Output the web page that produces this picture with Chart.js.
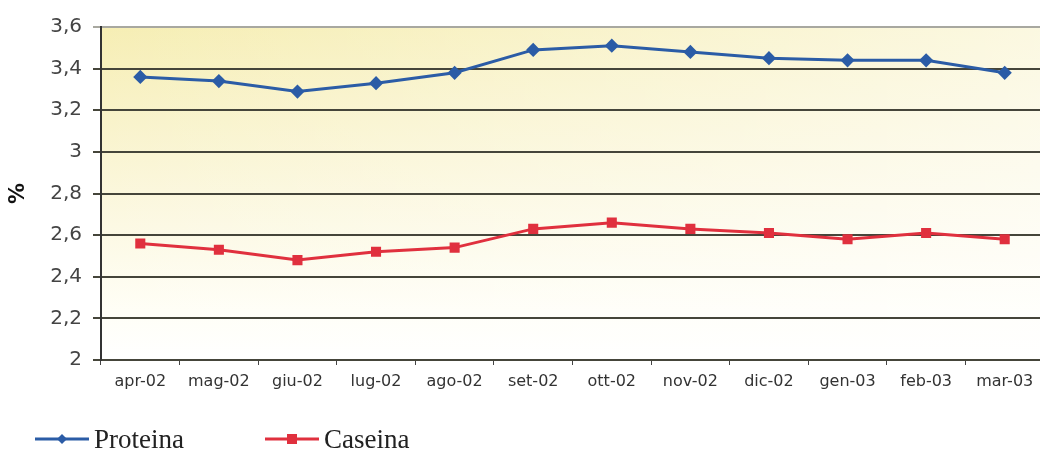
<!DOCTYPE html>
<html>
<head>
<meta charset="utf-8">
<script src="https://cdn.jsdelivr.net/npm/chart.js@4"></script>
<style>
  html, body { margin: 0; padding: 0; background: #fff; overflow: hidden; }
  #wrap { width: 1052px; height: 451px; }
</style>
</head>
<body>
<div id="wrap"><canvas id="milkChart" width="1052" height="451"></canvas></div>
<script>
const months = ["apr-02", "mag-02", "giu-02", "lug-02", "ago-02", "set-02",
  "ott-02", "nov-02", "dic-02", "gen-03", "feb-03", "mar-03"];
const proteina = [3.36, 3.34, 3.29, 3.33, 3.38, 3.49, 3.51, 3.48, 3.45, 3.44, 3.44, 3.38];
const caseina = [2.56, 2.53, 2.48, 2.52, 2.54, 2.63, 2.66, 2.63, 2.61, 2.58, 2.61, 2.58];

// yellow fade behind the plot area
const plotBackground = {
  id: "plotBackground",
  beforeDraw(chart) {
    const { ctx, chartArea: a } = chart;
    const w = a.right - a.left, h = a.bottom - a.top;
    ctx.save();
    const v = ctx.createLinearGradient(0, a.top, 0, a.bottom);
    v.addColorStop(0, "#f6eeb4");
    v.addColorStop(0.5, "#fbf7dc");
    v.addColorStop(0.85, "#fffef6");
    v.addColorStop(1, "#ffffff");
    ctx.fillStyle = v;
    ctx.fillRect(a.left, a.top, w, h);
    const hz = ctx.createLinearGradient(a.left, 0, a.right, 0);
    hz.addColorStop(0, "rgba(255,255,255,0)");
    hz.addColorStop(1, "rgba(255,255,255,0.6)");
    ctx.fillStyle = hz;
    ctx.fillRect(a.left, a.top, w, h);
    ctx.restore();
  }
};

// legend under the axis, like the original
const bottomLegend = {
  id: "bottomLegend",
  afterDraw(chart) {
    const ctx = chart.ctx;
    const items = [
      { x: 35, ds: chart.data.datasets[0] },
      { x: 265, ds: chart.data.datasets[1] }
    ];
    const y = 439;
    ctx.save();
    items.forEach((it) => {
      ctx.strokeStyle = it.ds.borderColor;
      ctx.lineWidth = 3;
      ctx.beginPath();
      ctx.moveTo(it.x, y);
      ctx.lineTo(it.x + 54, y);
      ctx.stroke();
      ctx.fillStyle = it.ds.backgroundColor;
      const cx = it.x + 27;
      if (it.ds.pointStyle === "rectRot") {
        ctx.beginPath();
        ctx.moveTo(cx, y - 5);
        ctx.lineTo(cx + 5, y);
        ctx.lineTo(cx, y + 5);
        ctx.lineTo(cx - 5, y);
        ctx.closePath();
        ctx.fill();
      } else {
        ctx.fillRect(cx - 5, y - 5, 10, 10);
      }
      ctx.fillStyle = "#222";
      ctx.font = "27px 'Liberation Serif'";
      ctx.textBaseline = "alphabetic";
      ctx.fillText(it.ds.label, it.x + 59, 448);
    });
    ctx.restore();
  }
};

const ctx = document.getElementById("milkChart").getContext("2d");
new Chart(ctx, {
  type: "line",
  data: {
    labels: months,
    datasets: [
      {
        label: "Proteina",
        data: proteina,
        borderColor: "#2b5ca6",
        backgroundColor: "#2b5ca6",
        borderWidth: 3,
        pointStyle: "rectRot",
        pointRadius: 5,
        pointHoverRadius: 5,
        tension: 0,
      },
      {
        label: "Caseina",
        data: caseina,
        borderColor: "#e0303e",
        backgroundColor: "#e0303e",
        borderWidth: 3,
        pointStyle: "rect",
        pointRadius: 5,
        pointHoverRadius: 5,
        tension: 0,
      },
    ],
  },
  options: {
    responsive: false,
    animation: false,
    layout: { padding: { top: 27, right: 3, left: 0, bottom: 0 } },
    plugins: {
      legend: { display: false },
      tooltip: { enabled: false },
    },
    scales: {
      x: {
        offset: true,
        grid: {
          offset: true,
          drawOnChartArea: false,
          tickLength: 5,
          color: "#444",
        },
        border: { display: false },
        ticks: {
          color: "#333",
          font: { family: "DejaVu Sans", size: 16 },
          padding: 7,
          maxRotation: 0,
          autoSkip: false,
        },
        afterFit(scale) {
          scale.height = 91;
        },
      },
      y: {
        min: 2,
        max: 3.6,
        ticks: {
          stepSize: 0.2,
          color: "#444",
          font: { family: "DejaVu Sans", size: 20 },
          padding: 11,
          callback: (v) => String(Math.round(v * 10) / 10).replace(".", ","),
        },
        grid: {
          color: (c) => (c.tick && c.tick.value >= 3.59 ? "#a8a8a0" : "#45453a"),
          lineWidth: 2,
          tickLength: 8,
        },
        border: { color: "#333", width: 2 },
        title: {
          display: true,
          text: "%",
          color: "#111",
          font: { family: "DejaVu Sans", size: 21, weight: "bold" },
          padding: { top: 6, bottom: 0 },
        },
        afterFit(scale) {
          scale.width = 101;
        },
      },
    },
  },
  plugins: [plotBackground, bottomLegend],
});
</script>
</body>
</html>
